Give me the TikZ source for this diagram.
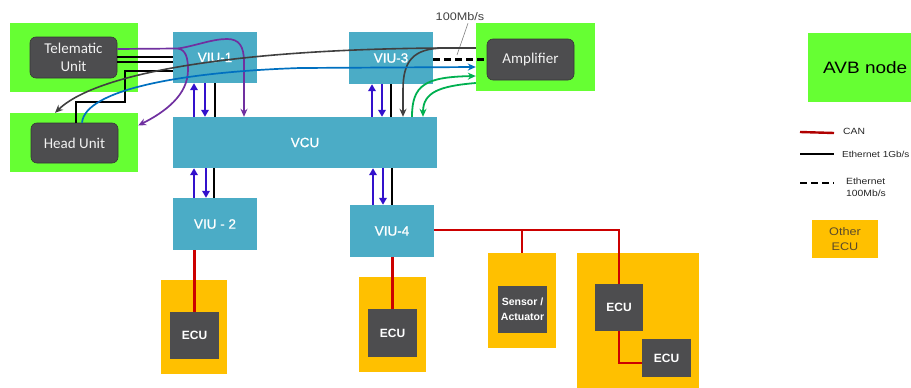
\documentclass[tikz,border=0pt]{standalone}
\usepackage{fontspec}
\setmainfont{Liberation Sans}
\newfontfamily\calfont{Carlito}
\newfontfamily\widefont[FakeStretch=1.15]{Liberation Sans}
\newfontfamily\viufont[FakeBold=0.8]{Liberation Sans}
\usetikzlibrary{arrows.meta,calc}
\definecolor{avbgreen}{HTML}{66FF33}
\definecolor{viublue}{HTML}{4BACC6}
\definecolor{darkbox}{HTML}{4D4D4F}
\definecolor{ecuorange}{HTML}{FFC000}
\definecolor{canred}{HTML}{CC0000}
\definecolor{legred}{HTML}{B00000}
\definecolor{arrowblue}{HTML}{3311CC}
\definecolor{purpleline}{HTML}{7030A0}
\definecolor{blueline}{HTML}{0070C0}
\definecolor{greenline}{HTML}{00B050}
\definecolor{grayline}{HTML}{404040}
\definecolor{othertext}{HTML}{5A4A2A}
\begin{document}
\begin{tikzpicture}[x=1pt,y=-1pt,
  wh/.style 2 args={minimum width=#1pt, minimum height=#2pt},
  avb/.style={rectangle, fill=avbgreen, draw=none, inner sep=0pt},
  viu/.style={rectangle, fill=viublue, draw=none, inner sep=0pt, text=white, font=\viufont\fontsize{13.5}{15}\selectfont},
  dark/.style={rectangle, fill=darkbox, draw=darkbox!70!black, line width=0.6pt, rounded corners=6pt, inner sep=0pt, text=white!95!black, align=center, font=\calfont\fontsize{15}{18}\selectfont},
  orangebox/.style={rectangle, fill=ecuorange, draw=none, inner sep=0pt},
  ecubox/.style={rectangle, fill=darkbox, draw=none, inner sep=0pt, text=white, align=center, font=\bfseries\fontsize{12}{14}\selectfont},
  eth/.style={line width=2.3pt, black},
  dashedeth/.style={line width=2.5pt, black, dash pattern=on 7pt off 4pt},
  can/.style={line width=2.4pt, canred},
  vb/.style={line width=2.6pt, arrowblue, -{Triangle[length=7pt,width=7.5pt]}},
  purp/.style={line width=1.7pt, purpleline, -{Stealth[length=8pt,width=7pt]}},
  grayarrow/.style={line width=1.6pt, grayline, -{Stealth[length=8pt,width=7pt]}},
  bluel/.style={line width=1.7pt, blueline, -{Stealth[length=8pt,width=7pt]}},
  greenl/.style={line width=1.8pt, greenline, -{Stealth[length=8pt,width=7pt]}},
  legtext/.style={anchor=west, inner sep=0pt, align=left, text=black!85}
]
\useasboundingbox (0,0) rectangle (911,388);
\clip (0,0) rectangle (911,388);

% ---- AVB nodes ----
\node[avb, wh={128}{69}] (telg) at (74,57.5) {};
\node[dark, wh={87}{41}] (tel) at (73.5,57.5) {Telematic\\Unit};
\node[avb, wh={128}{59}] (hug) at (74,142.5) {};
\node[dark, wh={87}{40}] (hu) at (74.5,143) {Head Unit};
\node[avb, wh={119}{68}] (ampg) at (535.5,57) {};
\node[dark, wh={87}{41}] (amp) at (530.5,59.5) {Amplifier};

% ---- VIUs and VCU ----
\node[viu, wh={84}{51}] (viu1) at (215,57.5) {VIU-1};
\node[viu, wh={84}{52}] (viu3) at (391,58) {VIU-3};
\node[viu, wh={264}{51}] (vcu) at (305,142.5) {VCU};
\node[viu, wh={84}{52}] (viu2) at (215,224) {VIU - 2};
\node[viu, wh={84}{52}] (viu4) at (392,231) {VIU-4};

% ---- Other ECUs ----
\node[orangebox, wh={66}{94}] (ecu2g) at (194,327) {};
\node[ecubox, wh={49}{47}] (ecu2) at (194.5,335.5) {ECU};
\node[orangebox, wh={67}{95}] (ecu4g) at (392.5,324.5) {};
\node[ecubox, wh={49}{48}] (ecu4) at (392.5,333) {ECU};
\node[orangebox, wh={68}{95}] (sensg) at (522,300.5) {};
\node[ecubox, wh={49}{47}, font=\bfseries\fontsize{10.5}{15}\selectfont] (sens) at (522.5,309.5) {Sensor /\\Actuator};
\node[orangebox, wh={122}{140}] (bigg) at (638,323) {};
\node[ecubox, wh={48}{47}] (ecua) at (619,307.5) {ECU};
\node[ecubox, wh={49}{38}] (ecub) at (666.5,358) {ECU};

% ---- Ethernet 1Gb/s ----
\draw[eth] ([yshift=0.5]tel.east) -- ([yshift=0.5]tel.east -| viu1.west);
\draw[eth] ([yshift=-4.5]tel.east) -- ([yshift=-4.5]tel.east -| viu1.west);
\coordinate (hb1) at (125,102);
\draw[eth] ([yshift=-13.5]viu1.west) -| (hb1) -| ([xshift=1.5]hu.north);
\draw[eth, line width=2pt] (viu1.south) -- (viu1.south |- vcu.north);
\draw[eth, line width=2pt] (viu3.south) -- (viu3.south |- vcu.north);
\draw[eth, line width=2pt] ([xshift=-1]viu2.north) -- ([xshift=-1]viu2.north |- vcu.south);
\draw[eth, line width=2pt] (viu4.north) -- (viu4.north |- vcu.south);

% ---- Ethernet 100Mb/s ----
\draw[dashedeth] (viu3.east |- amp.west) -- (amp.west);
\node[inner sep=0pt, text=grayline, font=\widefont\fontsize{11}{13}\selectfont] (lbl) at (460,17) {100Mb/s};
\coordinate (lblpt) at (457,55);
\draw[line width=0.6pt, gray] ([xshift=8,yshift=-2]lbl.south) -- (lblpt);

% ---- purple streams ----
\coordinate (pj) at (178,48.5);
\draw[purp] ([yshift=8.5]tel.east) -- (pj) .. controls (195,46) and (212,39) .. (227,39) .. controls (239,39) and (244,46) .. (244,62) -- ([xshift=-61]vcu.north);
\draw[purp] (pj) .. controls (186,50) and (188,58) .. (188,70) .. controls (188,95) and (165,112) .. ([yshift=17]hug.east);

% ---- gray streams ----
\coordinate (gj) at (445,48);
\draw[grayarrow] ([yshift=9]ampg.west) -- (gj) .. controls (250,49) and (100,70) .. ([xshift=-19]hug.north);
\draw[grayarrow] (gj) .. controls (412,48) and (403,62) .. (403,90) -- ([xshift=98]vcu.north);

% ---- blue stream ----
\draw[bluel] ([xshift=7.5]hu.north) .. controls (85,90) and (180,72) .. (300,68) -- ([yshift=-10]ampg.west);

% ---- green streams ----
\draw[greenl] ([xshift=107]vcu.north) .. controls (412,85) and (425,77) .. ([yshift=-19]ampg.west);
\draw[greenl] ([yshift=-26]ampg.west) .. controls (440,86) and (423,92) .. ([xshift=118]vcu.north);

% ---- vertical blue arrows ----
\draw[vb] ([xshift=-21]viu1.south |- vcu.north) -- ([xshift=-21]viu1.south);
\draw[vb] ([xshift=-10]viu1.south) -- ([xshift=-10]viu1.south |- vcu.north);
\draw[vb] ([xshift=-19]viu3.south |- vcu.north) -- ([xshift=-19]viu3.south);
\draw[vb] ([xshift=-9]viu3.south) -- ([xshift=-9]viu3.south |- vcu.north);
\draw[vb] ([xshift=-21]viu2.north) -- ([xshift=-21]viu2.north |- vcu.south);
\draw[vb] ([xshift=-9]viu2.north |- vcu.south) -- ([xshift=-9]viu2.north);
\draw[vb] ([xshift=-19]viu4.north) -- ([xshift=-19]viu4.north |- vcu.south);
\draw[vb] ([xshift=-9]viu4.north |- vcu.south) -- ([xshift=-9]viu4.north);

% ---- CAN ----
\draw[can] (ecu2.north) -- (ecu2.north |- viu2.south);
\draw[can] (ecu4.north) -- (ecu4.north |- viu4.south);
\coordinate (canbus) at ([yshift=1]viu4.east);
\draw[can] (canbus) -| (ecua.north);
\draw[can] (sensg.north) -- (sensg.north |- canbus);
\draw[can] (ecua.south) |- ([yshift=-5]ecub.west);

% ---- legend ----
\node[avb, wh={122}{69}] (legavb) at (869,67.5) {};
\node[anchor=west, inner sep=0pt, font=\widefont\fontsize{16.5}{20}\selectfont] (avbtxt) at (823,68) {AVB node};
\node[legtext, font=\widefont\fontsize{9}{11}\selectfont] (lcan) at (843,131) {CAN};
\draw[line width=2.4pt, legred] ([xshift=-43,yshift=-1]lcan.west) -- ([xshift=-9,yshift=-2]lcan.west);
\node[legtext, font=\widefont\fontsize{8.7}{11}\selectfont] (leth) at (842,154) {Ethernet 1Gb/s};
\draw[line width=2.2pt, black] ([xshift=-42]leth.west) -- ([xshift=-8]leth.west);
\node[legtext, font=\widefont\fontsize{9}{12}\selectfont] (leth2) at (846,187) {Ethernet\\100Mb/s};
\coordinate (dasha) at (800,183);
\coordinate (dashb) at (834,183);
\draw[line width=2.4pt, black, dash pattern=on 7pt off 4pt] (dasha) -- (dashb);
\node[orangebox, wh={66}{38}, align=center, text=othertext, font=\widefont\fontsize{11}{15}\selectfont] (lother) at (845,239) {Other\\ECU};
\end{tikzpicture}
\end{document}
